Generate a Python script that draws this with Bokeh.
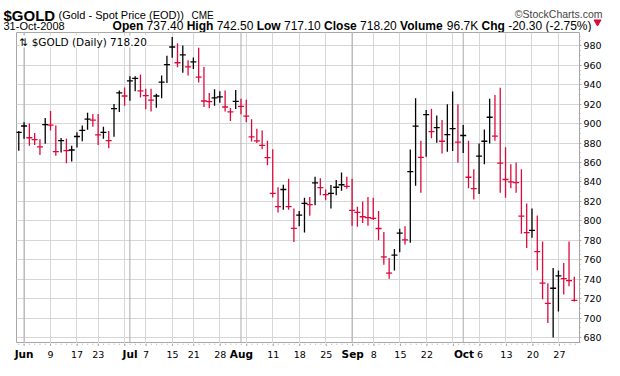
from bokeh.plotting import figure
from bokeh.layouts import column
from bokeh.models import Range1d, FixedTicker, Label, ColumnDataSource, Span
from bokeh.core.properties import value
from bokeh.embed import file_html
from bokeh.resources import INLINE

# ---- data ----
highs = [892.3, 901.4, 900.0, 890.3, 883.8, 905.6, 913.0, 898.1, 885.1, 884.5,
         877.3, 891.0, 898.1, 911.1, 909.8, 909.8, 896.8, 892.3, 920.2, 933.9,
         937.1, 948.5, 948.5, 950.4, 935.8, 935.8, 930.6, 949.5, 969.6, 989.1,
         982.6, 980.3, 965.0, 968.0, 978.0, 958.2, 931.3, 935.2, 933.2, 933.9,
         916.0, 934.5, 925.4, 924.4, 904.3, 894.6, 892.9, 882.3, 873.5, 834.5,
         837.1, 843.3, 812.7, 810.1, 823.8, 824.4, 845.2, 843.9, 832.2, 836.8,
         842.0, 849.8, 845.2, 843.3, 814.6, 819.8, 824.6, 823.7, 810.0, 788.6,
         761.9, 771.0, 791.8, 794.4, 873.4, 926.0, 882.2, 914.0, 915.3, 908.2,
         903.6, 919.9, 932.9, 919.9, 898.4, 882.2, 852.9, 879.6, 893.9, 925.4,
         929.3, 936.8, 875.7, 858.1, 860.0, 852.9, 817.8, 812.6, 805.5, 778.8,
         735.9, 751.5, 748.9, 756.7, 778.8, 742.5]
lows = [872.1, 884.5, 877.3, 878.0, 867.6, 879.3, 892.9, 866.9, 870.2, 859.1,
        861.1, 875.4, 881.9, 893.6, 896.8, 878.0, 884.5, 874.7, 886.4, 911.8,
        918.3, 923.5, 933.2, 926.7, 914.7, 912.4, 916.3, 926.1, 941.7, 967.6,
        957.9, 952.1, 949.5, 956.0, 942.3, 917.0, 915.7, 918.3, 921.5, 912.4,
        902.7, 915.0, 909.5, 901.3, 881.5, 879.9, 873.7, 857.2, 824.1, 808.5,
        811.4, 811.4, 778.3, 794.5, 788.0, 805.3, 816.0, 826.4, 821.2, 812.7,
        826.4, 830.9, 832.9, 794.9, 793.8, 797.7, 795.0, 800.9, 780.1, 754.8,
        740.4, 748.9, 767.8, 775.6, 777.5, 836.0, 828.9, 865.9, 884.8, 880.2,
        869.2, 871.1, 871.8, 860.0, 869.8, 833.4, 822.0, 827.6, 858.1, 879.6,
        882.2, 828.9, 823.7, 833.4, 828.9, 786.6, 772.0, 782.7, 749.2, 719.3,
        694.9, 680.0, 706.7, 724.2, 732.7, 717.1]
closes = [891.0, 897.5, 885.4, 883.5, 876.0, 899.0, 898.4, 871.1, 882.5, 872.1,
          872.8, 886.7, 892.9, 904.5, 903.5, 888.4, 891.0, 882.5, 915.3, 931.6,
          928.3, 943.9, 946.5, 933.5, 928.7, 924.1, 928.3, 942.6, 960.5, 978.7,
          962.5, 970.6, 958.2, 963.4, 947.8, 923.2, 922.5, 926.4, 927.4, 917.0,
          912.0, 922.8, 917.6, 907.6, 886.4, 882.2, 877.6, 865.0, 828.3, 814.7,
          832.2, 814.7, 792.3, 805.9, 817.9, 816.6, 839.0, 834.2, 827.0, 828.3,
          834.5, 837.1, 835.5, 810.8, 808.7, 804.2, 803.2, 802.6, 792.1, 762.9,
          746.3, 764.8, 787.3, 780.4, 850.6, 897.4, 865.3, 909.1, 891.6, 895.8,
          881.8, 888.7, 894.8, 880.9, 887.7, 844.8, 833.1, 866.6, 881.8, 906.5,
          887.0, 859.4, 842.5, 840.0, 839.3, 804.8, 787.9, 790.2, 768.4, 735.9,
          715.1, 730.7, 743.4, 740.5, 738.5, 718.2]

# x-axis: bar index of each weekly grid line, month starts and labelled days
week_idx = [1, 6, 11, 15, 20, 24, 29, 33, 38, 43, 48, 53, 58, 63, 67, 72, 77, 82, 87, 92, 97, 102]
month_idx = [1, 21, 42, 63, 84]
month_labels = ["Jun", "Jul", "Aug", "Sep", "Oct"]
day_idx = [6, 11, 15, 24, 29, 33, 38, 48, 53, 58, 67, 72, 77, 87, 92, 97, 102]
day_labels = ["9", "17", "23", "7", "15", "21", "28", "11", "18", "25", "8", "15", "22", "6", "13", "20", "27"]
y_ticks = [680, 700, 720, 740, 760, 780, 800, 820, 840, 860, 880, 900, 920, 940, 960, 980]

# header texts
symbol = "$GOLD"
description = "(Gold - Spot Price (EOD))"
exchange = "CME"
credit = "\u00a9StockCharts.com"
date_text = "31-Oct-2008"
quote_pieces = [("Open", "bold"), ("737.40", "normal"), ("High", "bold"), ("742.50", "normal"),
                ("Low", "bold"), ("717.10", "normal"), ("Close", "bold"), ("718.20", "normal"),
                ("Volume", "bold"), ("96.7K", "normal"), ("Chg", "bold"),
                ("-20.30 (-2.75%)", "normal")]
legend_text = "\u21c5 $GOLD (Daily) 718.20"

UP = "#000000"
DOWN = "#dc0a3c"
GRID = "#d6d6d6"
MONTH_GRID = "#ababab"
FRAME = "#a8a8a8"

W = 604
HEAD_H, MAIN_H, FOOT_H = 32, 311, 17
FRAME_L, FRAME_R = 16, 24          # borders left / right of the price frame
X0, X1 = -0.43, 105.98             # visible bar-index range
PPB = (W - FRAME_L - FRAME_R) / (X1 - X0)

n = len(closes)
idx = list(range(n))
colors = [UP] + [UP if closes[i] >= closes[i - 1] else DOWN for i in range(1, n)]
src = ColumnDataSource(dict(x=idx, h=highs, l=lows, c=closes, col=colors))

# ---------------- price panel ----------------
p = figure(width=W, height=MAIN_H, output_backend="svg", toolbar_location=None,
           x_range=Range1d(X0, X1), y_range=Range1d(673.9, 993.6),
           y_axis_location="right", x_axis_location=None,
           min_border_left=FRAME_L, min_border_right=FRAME_R,
           min_border_top=0, min_border_bottom=0)
ALIGN_OFF = hasattr(p, "frame_align")
p.background_fill_color = "white"
p.border_fill_color = "white"
p.outline_line_color = FRAME

p.ygrid.ticker = FixedTicker(ticks=y_ticks)
p.ygrid.grid_line_color = GRID
p.xgrid.ticker = FixedTicker(ticks=week_idx)
p.xgrid.grid_line_color = GRID
for m in month_idx:
    p.add_layout(Span(location=m, dimension="height", line_color=MONTH_GRID,
                      line_width=1, level="underlay"))

p.yaxis.ticker = FixedTicker(ticks=y_ticks, minor_ticks=list(range(675, 995, 5)))
p.yaxis.axis_line_color = FRAME
p.yaxis.major_tick_line_color = FRAME
p.yaxis.minor_tick_line_color = FRAME
p.yaxis.major_tick_in = 0
p.yaxis.major_tick_out = 2
p.yaxis.minor_tick_in = 0
p.yaxis.minor_tick_out = 1
p.yaxis.major_label_standoff = 2
p.yaxis.major_label_text_font = "DejaVu Sans"
p.yaxis.major_label_text_font_size = "9.5px"
p.yaxis.major_label_text_color = "#000000"

p.segment(x0="x", y0="l", x1="x", y1="h", line_color="col", line_width=1.3, source=src)
p.dash(x="x", y="c", size=6, line_color="col", line_width=1.3, source=src)

p.add_layout(Label(x=3, y=MAIN_H - 9, x_units="screen", y_units="screen", text=legend_text,
                   text_font="DejaVu Sans", text_font_size="10.5px", text_color="#000000",
                   text_baseline="alphabetic", background_fill_color="white"))


def bare(fig):
    fig.xgrid.visible = False
    fig.ygrid.visible = False
    fig.outline_line_color = None
    fig.background_fill_color = "white"
    fig.border_fill_color = "white"


# ---------------- header ----------------
head = figure(width=W, height=HEAD_H, output_backend="svg", toolbar_location=None,
              x_range=Range1d(0, W) if ALIGN_OFF else Range1d(FRAME_L, W - FRAME_R),
              y_range=Range1d(HEAD_H, 0), min_border=0,
              x_axis_location=None, y_axis_location=None)
bare(head)


def htext(fig, xs, ys, texts, size, style="normal", color="#000000", font="Liberation Sans",
          align="left"):
    fig.text(x=xs, y=ys, text=texts, text_font=value(font), text_font_size=value(size),
             text_font_style=style, text_color=color, text_align=align,
             text_baseline="alphabetic")


LEFT = 3 if ALIGN_OFF else FRAME_L + 1
RIGHT = 604 if ALIGN_OFF else W - FRAME_R
L1, L2 = 14.5, 25
htext(head, [LEFT], [L1], [symbol], "15px", "bold")
htext(head, [LEFT + 55], [L1], [description], "11px")
htext(head, [LEFT + 188], [L1], [exchange], "10px")
htext(head, [RIGHT - 2], [L1 - 1], [credit], "10.5px", color="#444444", align="right")
htext(head, [LEFT], [L2], [date_text], "11px")

# lay out the quote line from Arial advance widths (per 1000 em)
REG = {" ": 278, "(": 333, ")": 333, "-": 333, ".": 278, "%": 889, "K": 667}
REG.update({d: 556 for d in "0123456789"})
BOLD = {" ": 278, "O": 778, "p": 611, "e": 556, "n": 611, "H": 722, "i": 278, "g": 611,
        "h": 611, "L": 611, "o": 611, "w": 778, "C": 722, "l": 278, "s": 556, "V": 667,
        "u": 611, "m": 889}
QSIZE = 12.0


def tw(s, style):
    tab = BOLD if style == "bold" else REG
    return sum(tab.get(ch, 556) for ch in s) * QSIZE / 1000.0


gap = 278 * QSIZE / 1000.0
total = sum(tw(t, s) for t, s in quote_pieces) + gap * (len(quote_pieces) - 1)
qx = RIGHT - 13 - total
bx, bt, nx, nt = [], [], [], []
for t, s in quote_pieces:
    if s == "bold":
        bx.append(qx); bt.append(t)
    else:
        nx.append(qx); nt.append(t)
    qx += tw(t, s) + gap
htext(head, bx, [L2] * len(bx), bt, "12px", "bold")
htext(head, nx, [L2] * len(nx), nt, "12px")
head.scatter(x=[RIGHT - 7], y=[L2 - 3.5], marker="inverted_triangle", size=7,
             fill_color=DOWN, line_color=DOWN)

# ---------------- date labels + bottom ticks ----------------
foot = figure(width=W, height=FOOT_H, output_backend="svg", toolbar_location=None,
              x_range=(Range1d(X0 - FRAME_L / PPB, X1 + FRAME_R / PPB) if ALIGN_OFF
                       else Range1d(X0, X1)),
              y_range=Range1d(FOOT_H, 0), min_border=0,
              x_axis_location=None, y_axis_location=None)
bare(foot)
foot.segment(x0=idx, y0=[0] * n, x1=idx, y1=[1.2] * n, line_color=FRAME, line_width=1)
foot.segment(x0=week_idx, y0=[0] * len(week_idx), x1=week_idx, y1=[2.5] * len(week_idx),
             line_color=FRAME, line_width=1)
foot.text(x=month_idx, y=[10.5] * len(month_idx), text=month_labels,
          text_font=value("DejaVu Sans"), text_font_size=value("10.5px"),
          text_font_style="bold", text_color="#000000", text_align="center",
          text_baseline="alphabetic")
foot.text(x=day_idx, y=[10.5] * len(day_idx), text=day_labels,
          text_font=value("DejaVu Sans"), text_font_size=value("9.5px"),
          text_color="#000000", text_align="center", text_baseline="alphabetic")

if ALIGN_OFF:
    for f in (head, p, foot):
        f.frame_align = False

layout = column(head, p, foot, spacing=0)
open("out.html", "w").write(file_html(layout, INLINE))
